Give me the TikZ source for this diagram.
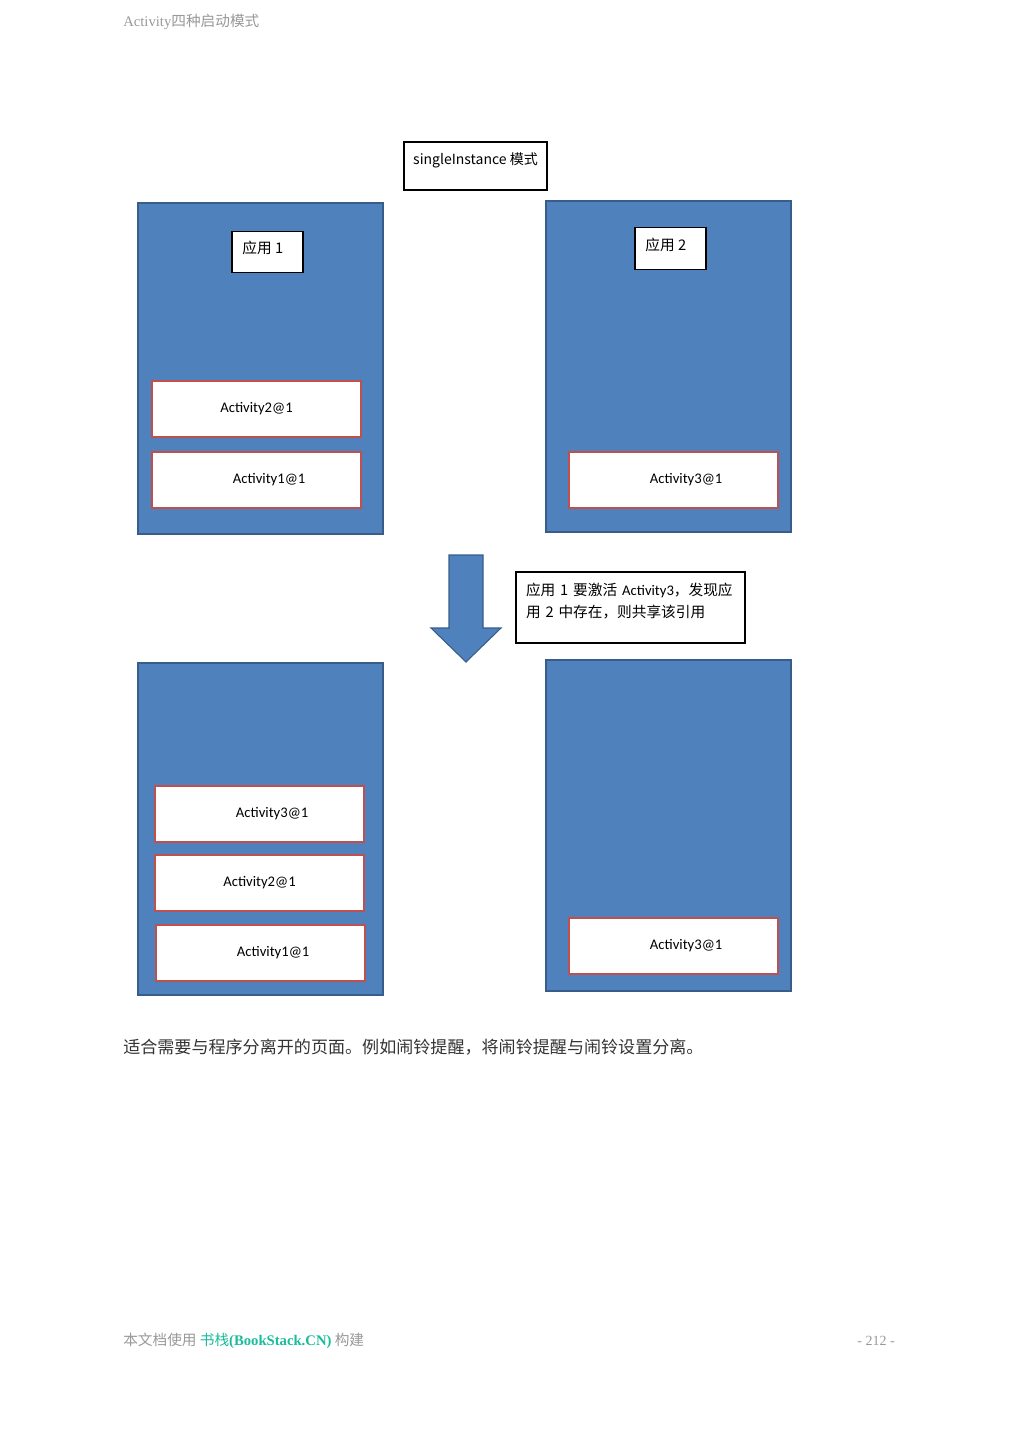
\documentclass[tikz,border=0pt]{standalone}
\usepackage{fontspec}
\setmainfont{Carlito}
\newfontfamily\cjk{Noto Sans CJK SC}
\newfontfamily\pageserif{Liberation Serif}
\usepackage{xcolor}
\usetikzlibrary{positioning}

\definecolor{appblue}{HTML}{4F81BD}
\definecolor{appedge}{HTML}{385D8A}
\definecolor{actred}{HTML}{C0504D}
\definecolor{pagegray}{HTML}{999999}
\definecolor{texgray}{HTML}{333333}
\definecolor{bsgreen}{HTML}{1ABC9C}

% text pushed right inside an activity box
\newcommand{\offtext}[1]{\hspace*{19pt}#1}

\begin{document}
\begin{tikzpicture}[
    x=0.75pt, y=-0.75pt,
    app/.style={rectangle, draw=appedge, line width=1.4pt, fill=appblue,
        minimum width=183.75pt, minimum height=248.25pt, inner sep=0pt},
    act/.style={rectangle, draw=actred, line width=1.1pt, fill=white,
        minimum width=156.75pt, minimum height=42pt, inner sep=0pt,
        font=\fontsize{11}{13}\selectfont},
    tag/.style={rectangle, draw=black, line width=0.8pt, fill=white,
        minimum width=53.25pt, minimum height=31pt, inner sep=0pt,
        text depth=7pt, font=\cjk\fontsize{11}{13}\selectfont},
    note/.style={rectangle, draw=black, line width=0.8pt, fill=white, align=left,
        inner sep=0pt, font=\cjk\fontsize{11}{16.5}\selectfont}
]
    \fill[white] (0,0) rectangle (1019,1440);
    \useasboundingbox (0,0) rectangle (1019,1440);

    % page header
    \node[anchor=west, inner sep=0pt, text=pagegray, font=\fontsize{11}{12}\selectfont] (head) at (123,22)
        {\pageserif Activity\cjk 四种启动模式};

    % title
    \node[tag, minimum width=107.25pt, minimum height=36pt, text depth=11pt] (mode) at (475.5,166)
        {\fontsize{10.5}{12}\selectfont singleInstance \cjk 模式};

    % before
    \node[app] (app1) at (260.5,368.5) {};
    \node[tag] (name1) at (267.5,252) {应用 1\hspace*{7pt}};
    \node[act] (a2top) at (256.5,409) {Activity2@1};
    \node[act] (a1top) at (256.5,480) {\offtext{Activity1@1}};

    \node[app] (app2) at (668.5,366.5) {};
    \node[tag] (name2) at (670.5,248.5) {应用 2\hspace*{7pt}};
    \node[act] (a3top) at (673.5,480) {\offtext{Activity3@1}};

    % big arrow
    \coordinate (tip) at (466,662);
    \fill[appblue, draw=appedge, line width=0.8pt]
        (449,555) -- (483,555) -- (483,628) -- (501,628) -- (tip)
        -- (431,628) -- (449,628) -- cycle;

    \node[note, minimum width=171.75pt, minimum height=53.25pt, text width=156.75pt, text depth=27pt] (why) at (630.5,607.5)
        {应用 1 要激活 \mbox{\normalfont\fontsize{11}{13}\selectfont Activity3}，发现应\\
         用 2 中存在，则共享该引用};

    % after
    \node[app, minimum height=249pt] (app1b) at (260.5,829) {};
    \node[act] (a3bot) at (259.5,814) {\offtext{Activity3@1}};
    \node[act] (a2bot) at (259.5,883) {Activity2@1};
    \node[act] (a1bot) at (260.5,953) {\offtext{Activity1@1}};

    \node[app] (app2b) at (668.5,825.5) {};
    \node[act] (a3shared) at (673.5,946) {\offtext{Activity3@1}};

    % caption
    \node[anchor=west, inner sep=0pt, text=texgray, font=\cjk\fontsize{12.8}{15}\selectfont] (caption) at (123,1047)
        {适合需要与程序分离开的页面。例如闹铃提醒，将闹铃提醒与闹铃设置分离。};

    % page footer
    \node[anchor=west, inner sep=0pt, text=pagegray, font=\cjk\fontsize{11}{12}\selectfont] (foot) at (123,1341)
        {本文档使用 \textcolor{bsgreen}{书栈{\pageserif\bfseries (BookStack.CN)}} 构建};
    \node[anchor=east, inner sep=0pt, text=pagegray, font=\pageserif\fontsize{10.5}{12}\selectfont] (page) at (895,1341)
        {- 212 -};
\end{tikzpicture}
\end{document}
